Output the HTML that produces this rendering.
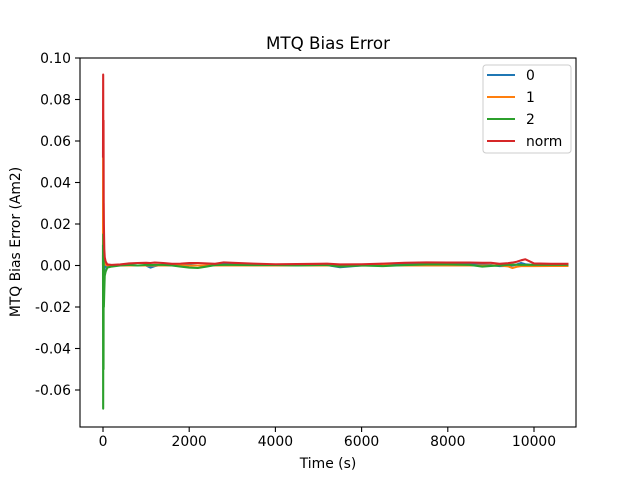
<!DOCTYPE html>
<html><head><meta charset="utf-8"><style>
body{margin:0;background:#fff}
text{font-family:"DejaVu Sans","Liberation Sans",sans-serif;fill:#000}
</style></head><body>
<svg id="c" width="640" height="480" xmlns="http://www.w3.org/2000/svg"></svg>
<script>
const times=[0,4,8,12,16,20,30,40,60,100,200,400,600,800,1000,1100,1200,1400,1600,1800,2000,2200,2400,2600,2800,3000,3500,4000,4500,5000,5200,5500,6000,6500,7000,7500,8000,8500,8800,9000,9200,9400,9500,9600,9700,9800,10000,10400,10800];
const s0=[0.005,-0.018,0.01,-0.01,0.005,-0.005,-0.002,-0.001,-0.0005,-0.0003,0,0,0.0003,0,0,-0.001,-0.0003,0.0005,0.0005,0.0003,0.0003,0,0,0.0003,0.0006,0.0005,0.0003,0.0003,0.0003,0.0003,0.0002,-0.0008,0,0.0003,0.0007,0.0008,0.0007,0.0006,0.0005,0.0002,-0.0003,-0.0002,0,0.0005,0.0012,0.0006,0.0002,0.0003,0.0003];
const s1=[0,0.068,-0.03,0.03,0,0.008,0.003,0.001,0.0005,0,0,0,0,0,0,0,0,0,0,0,0,0,0,0,0,0,0,0,0,0,0,0,0,0,0,0,0,0,0,0,0,-0.0004,-0.0012,-0.0006,-0.0003,-0.0002,-0.0003,-0.0002,-0.0002];
const s2=[0.01,-0.069,0.015,-0.05,0.01,-0.02,-0.012,-0.005,-0.003,-0.001,-0.0005,0,0.0003,0,0.0003,0.0002,0.0003,0.0003,0,-0.0005,-0.001,-0.0012,-0.0005,0.0002,0.0003,0.0003,0.0002,0.0002,0,0.0002,0.0002,-0.0005,0,-0.0003,0.0002,0.0005,0.0005,0.0003,-0.0005,-0.0002,0,0.0003,0.0004,0.0004,0.0003,0.0003,0.0003,0.0003,0.0003];
const s3=[0.052,0.092,0.055,0.07,0.03,0.02,0.008,0.004,0.002,0.0005,0.0003,0.0005,0.001,0.0012,0.0013,0.0012,0.0014,0.0012,0.0008,0.0009,0.0012,0.0012,0.001,0.0008,0.0015,0.0013,0.0009,0.0006,0.0007,0.0008,0.0009,0.0005,0.0006,0.0009,0.0013,0.0015,0.0014,0.0014,0.0013,0.0013,0.0008,0.0011,0.0014,0.0018,0.0025,0.003,0.001,0.0008,0.0008];
const series=[s0,s1,s2,s3];
const names=["0","1","2","norm"];
const colors=["#1f77b4","#ff7f0e","#2ca02c","#d62728"];
const xticks=[0,2000,4000,6000,8000,10000];
const yticks=[-0.06,-0.04,-0.02,0,0.02,0.04,0.06,0.08,0.10];
const L=80,R=576,T=58,B=427;
const X=v=>103+v*0.0431;
const Y=v=>265.5-v*2075;
const svg=document.getElementById('c');const NS='http://www.w3.org/2000/svg';
function mk(t,a,p){const e=document.createElementNS(NS,t);for(const k in a)e.setAttribute(k,a[k]);(p||svg).appendChild(e);return e;}
series.forEach((s,i)=>{const p=mk('polyline',{points:s.map((v,j)=>X(times[j])+','+Y(v)).join(' '),fill:'none',stroke:colors[i],'stroke-width':2.1,'stroke-linejoin':'round'});

});
const fr=mk('rect',{x:L,y:T,width:R-L,height:B-T,fill:'none',stroke:'#000','stroke-width':1.1});


xticks.forEach(v=>{mk('line',{x1:X(v),x2:X(v),y1:B,y2:B+5,stroke:'#000','stroke-width':1.1});
const t=mk('text',{x:X(v),y:B+19,'text-anchor':'middle','font-size':13.9});t.textContent=v;

});
yticks.forEach(v=>{mk('line',{x1:L-5,x2:L,y1:Y(v),y2:Y(v),stroke:'#000','stroke-width':1.1});
const t=mk('text',{x:L-9,y:Y(v)+5,'text-anchor':'end','font-size':13.9});t.textContent=v.toFixed(2);

});
let t=mk('text',{x:328,y:49,'text-anchor':'middle','font-size':16.7});t.textContent='MTQ Bias Error';


t=mk('text',{x:328,y:468,'text-anchor':'middle','font-size':13.9});t.textContent='Time (s)';


t=mk('text',{x:20,y:242,'text-anchor':'middle','font-size':13.9,transform:'rotate(-90 20 242)'});t.textContent='MTQ Bias Error (Am2)';


const lg=mk('g',{});


mk('rect',{x:483,y:65,width:88,height:88,rx:3,fill:'#fff',stroke:'#ccc','stroke-width':1},lg);
names.forEach((n,i)=>{const y=75+i*22;
mk('line',{x1:487,x2:515,y1:y,y2:y,stroke:colors[i],'stroke-width':2.1},lg);
const e=mk('text',{x:526,y:y+5,'font-size':13.9},lg);e.textContent=n;

});
</script>
</body></html>
